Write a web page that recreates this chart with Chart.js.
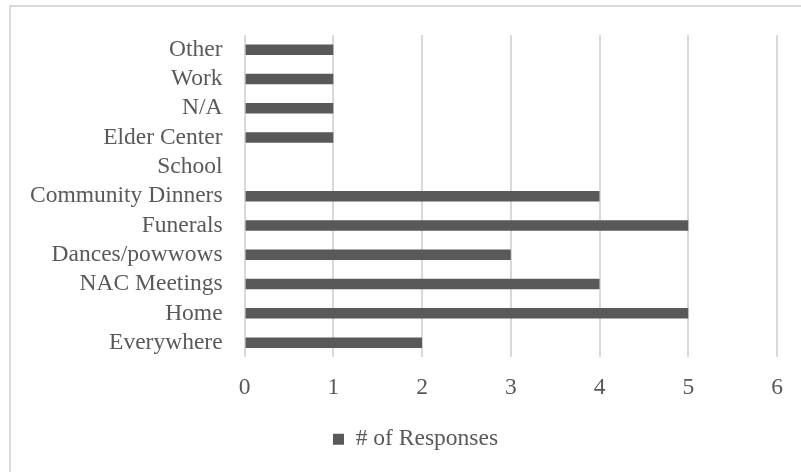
<!DOCTYPE html>
<html>
<head>
<meta charset="utf-8">
<script src="https://cdn.jsdelivr.net/npm/chart.js@4/dist/chart.umd.min.js"></script>
<style>
  html, body { margin:0; padding:0; background:#fff; overflow:hidden; }
  .frame {
    position:absolute; left:9px; top:5px; width:900px; height:600px;
    border-top:2px solid #dadada; border-left:2px solid #dadada;
  }
  .wrap { position:absolute; left:10px; top:6px; width:812px; height:466px; }
</style>
</head>
<body>
<div class="frame"></div>
<div class="wrap"><canvas id="chart-places"></canvas></div>
<script>
// where people hear / use the language — survey counts
const places = ["Other","Work","N/A","Elder Center","School","Community Dinners",
                "Funerals","Dances/powwows","NAC Meetings","Home","Everywhere"];
const responses = [1, 1, 1, 1, 0, 4, 5, 3, 4, 5, 2];
const xTicks = [0, 1, 2, 3, 4, 5, 6];

const TEXT = "#595959", GRID = "#d9d9d9", BAR = "#595959";
const FONT = { family:"'Liberation Serif', 'Times New Roman', serif", size:23.5 };

// nudge the legend to the right so it sits under the middle of the whole frame
const legendShift = {
  id:"legendShift",
  afterLayout(chart){
    chart.legend.left += 13;
    chart.legend.right += 13;
  },
};

new Chart(document.getElementById("chart-places"), {
  type:"bar",
  data:{
    labels:places,
    datasets:[{
      label:"# of Responses",
      data:responses,
      backgroundColor:BAR,
      borderWidth:0,
      categoryPercentage:1,
      barPercentage:0.36,
    }],
  },
  options:{
    indexAxis:"y",
    responsive:true, maintainAspectRatio:false, animation:false,
    layout:{ padding:{ top:29, left:18, right:45, bottom:11 } },
    plugins:{
      legend:{
        position:"bottom",
        labels:{ font:FONT, color:TEXT, boxWidth:11, boxHeight:11, padding:10 },
      },
      tooltip:{ enabled:false },
    },
    scales:{
      x:{
        min:xTicks[0], max:xTicks[xTicks.length-1],
        afterBuildTicks:s => { s.ticks = xTicks.map(v=>({value:v})); },
        grid:{ color:GRID, lineWidth:2, drawTicks:false },
        border:{ display:false },
        ticks:{ font:FONT, color:TEXT, padding:16 },
      },
      y:{
        // labels sit inside the category bands; drop the spare room left of them
        afterFit:s => { s.paddingTop = 0; s.paddingBottom = 0; s.width -= 20; },
        grid:{ display:false, drawTicks:false },
        border:{ display:false },
        ticks:{ font:FONT, color:TEXT, padding:22, autoSkip:false },
      },
    },
  },
  plugins:[legendShift],
});
</script>
</body>
</html>
